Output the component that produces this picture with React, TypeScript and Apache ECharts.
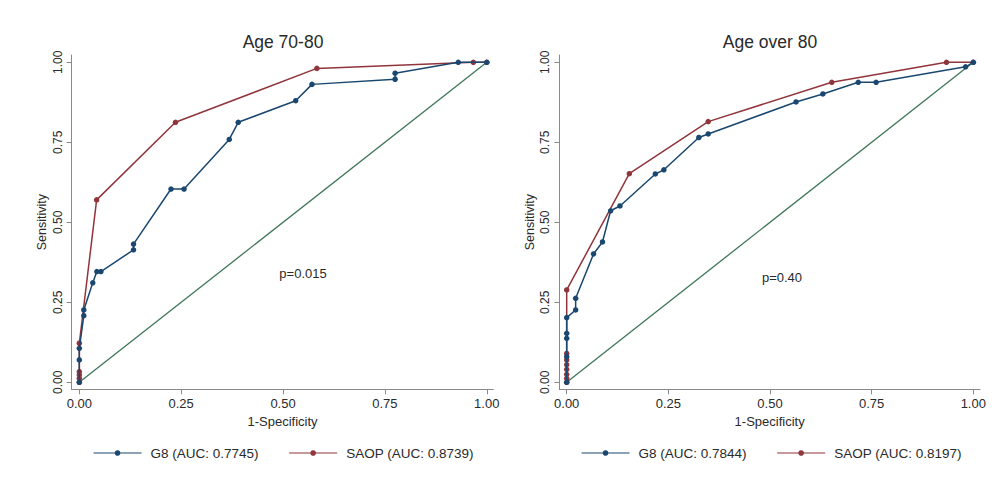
import React, { useEffect, useRef } from "react";
import * as echarts from "echarts";

const FONT = "'Liberation Sans', Arial, Helvetica, sans-serif";
const BLUE = "#1a476f";
const RED = "#90353b";
const GREEN = "#3f7659";
const AXIS = "#8a8a8a";
const TEXT = "#2a2a2a";

// Age 70-80 panel
const g8Left: [number, number][] = [
  [0, 0], [0, 0.07], [0, 0.106], [0.011, 0.208], [0.011, 0.226], [0.033, 0.311],
  [0.043, 0.346], [0.053, 0.346], [0.133, 0.414], [0.133, 0.432], [0.225, 0.604],
  [0.257, 0.604], [0.368, 0.759], [0.39, 0.8125], [0.531, 0.88], [0.571, 0.931],
  [0.775, 0.947], [0.775, 0.966], [0.93, 1], [1, 1],
];
const saopLeft: [number, number][] = [
  [0, 0], [0, 0.0125], [0, 0.023], [0, 0.033], [0, 0.122], [0.0425, 0.57],
  [0.236, 0.8125], [0.583, 0.981], [0.967, 1], [1, 1],
];

// Age over 80 panel
const g8Right: [number, number][] = [
  [0, 0], [0, 0.08], [0, 0.1375], [0, 0.153], [0, 0.202], [0.022, 0.226],
  [0.022, 0.2625], [0.066, 0.401], [0.088, 0.4385], [0.108, 0.536], [0.131, 0.551],
  [0.218, 0.651], [0.239, 0.664], [0.325, 0.765], [0.348, 0.776], [0.564, 0.876],
  [0.63, 0.901], [0.717, 0.9375], [0.761, 0.9375], [0.981, 0.986], [1, 1],
];
const saopRight: [number, number][] = [
  [0, 0], [0, 0.012], [0, 0.025], [0, 0.04], [0, 0.055], [0, 0.07], [0, 0.09],
  [0, 0.2885], [0.154, 0.652], [0.348, 0.8146], [0.652, 0.9375], [0.934, 1], [1, 1],
];

const diagonal: [number, number][] = [[0, 0], [1, 1]];
const tickValues = [0, 0.25, 0.5, 0.75, 1];

const titles = ["Age 70-80", "Age over 80"];
const pValues = ["p=0.015", "p=0.40"];
const legendNames = [
  ["G8 (AUC: 0.7745)", "SAOP (AUC: 0.8739)"],
  ["G8 (AUC: 0.7844)", "SAOP (AUC: 0.8197)"],
];

export default function App() {
  const ref = useRef<HTMLDivElement>(null);
  useEffect(() => {
    if (!ref.current) return;
    const chart = echarts.init(ref.current, null, { renderer: "svg" });

    const xAxisBase = (gridIndex: number, min: number, max: number) => ({
      type: "value",
      gridIndex,
      min,
      max,
      name: "1-Specificity",
      nameLocation: "middle",
      nameGap: 20,
      nameTextStyle: { fontFamily: FONT, fontSize: 13, color: TEXT },
      axisLine: { show: true, onZero: false, lineStyle: { color: AXIS, width: 1 } },
      axisTick: { show: true, length: 5, lineStyle: { color: AXIS }, customValues: tickValues },
      axisLabel: {
        fontFamily: FONT, fontSize: 13, color: TEXT, margin: 8,
        customValues: tickValues,
        formatter: (v: number) => v.toFixed(2),
      },
      splitLine: { show: false },
    });
    const yAxisBase = (gridIndex: number) => ({
      type: "value",
      gridIndex,
      min: -0.0219,
      max: 1.0228,
      name: "Sensitivity",
      nameLocation: "middle",
      nameRotate: 90,
      nameGap: 23,
      nameTextStyle: { fontFamily: FONT, fontSize: 12.5, color: TEXT },
      axisLine: { show: true, onZero: false, lineStyle: { color: AXIS, width: 1 } },
      axisTick: { show: true, length: 5, lineStyle: { color: AXIS }, customValues: tickValues },
      axisLabel: {
        fontFamily: FONT, fontSize: 12, color: TEXT, margin: 8, rotate: 90,
        customValues: tickValues,
        formatter: (v: number) => v.toFixed(2),
      },
      splitLine: { show: false },
    });

    const curve = (name: string, data: [number, number][], color: string, idx: number, z: number) => ({
      type: "line",
      name,
      data,
      xAxisIndex: idx,
      yAxisIndex: idx,
      symbol: "circle",
      symbolSize: 5.5,
      showAllSymbol: true,
      lineStyle: { color, width: 1.5 },
      itemStyle: { color },
      z,
    });
    const diag = (idx: number) => ({
      type: "line",
      data: diagonal,
      xAxisIndex: idx,
      yAxisIndex: idx,
      symbol: "none",
      lineStyle: { color: GREEN, width: 1.3 },
      silent: true,
      z: 1,
    });

    const legendCommon = {
      top: 446,
      padding: 0,
      itemWidth: 48,
      itemHeight: 7,
      itemGap: 30,
      lineStyle: { width: 1.1 },
      textStyle: { fontFamily: FONT, fontSize: 13.5, color: TEXT, padding: [0, 0, 0, 4] },
    };

    const textEl = (x: number, y: number, text: string, size: number) => ({
      type: "text",
      x,
      y,
      style: {
        text,
        fontFamily: FONT,
        fontSize: size,
        fill: TEXT,
        align: "center",
        verticalAlign: "middle",
      },
    });

    chart.setOption({
      animation: false,
      backgroundColor: "#ffffff",
      grid: [
        { left: 71.7, top: 55, width: 421.6, height: 334.3 },
        { left: 559.3, top: 55, width: 420.7, height: 334.3 },
      ],
      xAxis: [xAxisBase(0, -0.0187, 1.016), xAxisBase(1, -0.0182, 1.0165)],
      yAxis: [yAxisBase(0), yAxisBase(1)],
      legend: [
        { ...legendCommon, left: 93, data: legendNames[0] },
        { ...legendCommon, left: 581, data: legendNames[1] },
      ],
      graphic: [
        textEl(283, 42, titles[0], 17.5),
        textEl(770, 42, titles[1], 17.5),
        textEl(303, 273, pValues[0], 13),
        textEl(782, 277, pValues[1], 13),
      ],
      series: [
        diag(0),
        curve(legendNames[0][1], saopLeft, RED, 0, 2),
        curve(legendNames[0][0], g8Left, BLUE, 0, 3),
        diag(1),
        curve(legendNames[1][1], saopRight, RED, 1, 2),
        curve(legendNames[1][0], g8Right, BLUE, 1, 3),
      ],
    });
    return () => chart.dispose();
  }, []);

  return (
    <div
      ref={ref}
      style={{ position: "fixed", left: 0, top: 0, width: 998, height: 494, background: "#fff" }}
    />
  );
}
